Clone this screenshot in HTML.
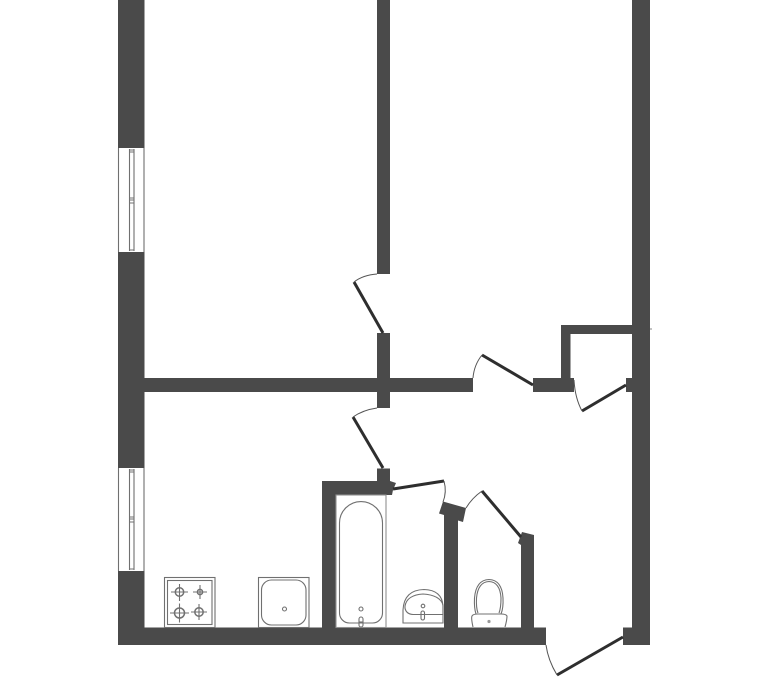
<!DOCTYPE html>
<html lang="en">
<head>
<meta charset="utf-8">
<title>Floor plan</title>
<style>
html,body{margin:0;padding:0;background:#fff;width:768px;height:688px;overflow:hidden}
svg{display:block}
.w{fill:#4a4a4a}
.d{stroke:#2e2e2e;stroke-width:3;fill:none}
.a{stroke:#555;stroke-width:1;fill:none}
.f{stroke:#707070;stroke-width:1.1;fill:none}
.g{stroke:#909090;stroke-width:1.1;fill:none}
</style>
</head>
<body>
<svg width="768" height="688" viewBox="0 0 768 688" xmlns="http://www.w3.org/2000/svg">
<!-- outer walls -->
<rect class="w" x="118" y="0" width="26.500" height="148"/>
<rect class="w" x="118" y="252" width="26.500" height="216"/>
<rect class="w" x="118" y="571" width="26.500" height="74"/>
<rect class="w" x="632" y="0" width="18" height="645"/>
<rect class="w" x="118" y="627.500" width="428" height="17.500"/>
<rect class="w" x="623" y="627.500" width="27" height="17.500"/>
<!-- partitions -->
<rect class="w" x="377" y="0" width="13" height="274"/>
<rect class="w" x="377" y="333" width="13" height="75"/>
<rect class="w" x="144" y="378" width="329" height="14"/>
<rect class="w" x="533" y="378" width="41" height="14"/>
<rect class="w" x="561" y="325" width="9.500" height="53"/>
<rect class="w" x="561" y="325" width="71" height="9"/>
<rect class="w" x="626" y="378" width="6" height="14"/>
<path class="g" d="M650 329h2"/>
<!-- bathroom walls -->
<polygon class="w" points="322,481 377,481 377,468.500 390,468.500 390,481 396,483 393,490 392,495 335.500,495 335.500,628 322,628"/>
<polygon class="w" points="443,501.500 466,508 463,522 458,520.500 458,628 444,628 444,515 439,513.500"/>
<polygon class="w" points="522,532 534,535 534,628 521,628 521,545 518,543"/>
<!-- windows -->
<g>
<path class="f" d="M118.500 148V252M144 148V252M118.500 468V571M144 468V571"/>
<path class="f" d="M129.500 149V251M134 149V251M129.500 469V570M134 469V570"/>
<path class="f" d="M129 150h5M129 152h5M129 198h5M129 200h5M129 203h5M129 250h5M129 470h5M129 472h5M129 517h5M129 519h5M129 522h5M129 569h5"/>
</g>
<!-- doors -->
<path class="d" d="M383 333L354 282"/>
<path class="a" d="M354 282Q363 275 377 274"/>
<path class="d" d="M533 385L482 355"/>
<path class="a" d="M482 355Q474 365 473 378"/>
<path class="d" d="M626 385L582 411"/>
<path class="a" d="M582 411Q575 398 574 380"/>
<path class="d" d="M383 468L353 417"/>
<path class="a" d="M353 417Q363 410 377 408"/>
<path class="d" d="M393 489L444 481"/>
<path class="a" d="M444 481Q447 492 443 502"/>
<path class="d" d="M482 491L521 537"/>
<path class="a" d="M482 491Q472 498 466 508"/>
<path class="d" d="M623 637L557 675"/>
<path class="a" d="M557 675Q548 660 546 645"/>
<!-- stove -->
<rect class="f" x="164.500" y="577.500" width="50.500" height="50"/>
<rect class="f" x="167.500" y="580.500" width="44.500" height="44" stroke-width="1.400"/>
<g class="f">
<circle cx="179.500" cy="592" r="4.200" stroke-width="1.500"/>
<path d="M171 592h17M179.500 584v17"/>
<circle cx="200" cy="592" r="2.600" stroke-width="1.500"/>
<path d="M193 592h14M200 585v14"/>
<circle cx="179.500" cy="613" r="5" stroke-width="1.500"/>
<path d="M170 613h19M179.500 603.500v19"/>
<circle cx="199" cy="612" r="4.200" stroke-width="1.500"/>
<path d="M191 612h16M199 604v16"/>
</g>
<!-- kitchen sink -->
<rect class="f" x="258.500" y="577.500" width="50.500" height="50"/>
<rect class="f" x="261.500" y="580" width="44.500" height="45" rx="10"/>
<circle cx="284.500" cy="609" r="2" class="f" stroke-width="1.500"/>
<!-- bathtub -->
<rect class="g" x="336" y="495" width="50" height="132.500" stroke-width="1.400"/>
<path class="f" d="M339.500 523a21.500 21.500 0 0 1 43 0V613a10 10 0 0 1-10 10H349.500a10 10 0 0 1-10-10Z"/>
<circle cx="361" cy="609" r="2" class="f"/>
<rect class="f" x="359" y="617" width="4" height="10" rx="2"/>
<path class="f" d="M359 622h4"/>
<!-- basin -->
<path class="f" d="M403 623V610Q404 590 424 589.500Q442 590 443 606V623Z"/>
<path class="f" d="M405 606Q407 595 423 594Q440 595 443 605V614.500H413Q406 614 405 608Z"/>
<circle cx="423" cy="606" r="1.800" class="f"/>
<rect class="f" x="421" y="611" width="3.500" height="9" rx="1.700"/>
<!-- toilet -->
<path class="f" d="M476 614Q474 608 474.500 598Q476 580 489 579.500Q502 580 503 598Q503.500 608 501 614"/>
<path class="f" d="M478 613Q476 608 476.500 598Q478 582 489 581.500Q500 582 501 598Q501 608 499 613"/>
<path class="f" d="M473 627Q471 618 472 616Q473 614 478 614H501Q506 614 507 616Q507 620 505 627"/>
<circle cx="489" cy="621.500" r="1.600" fill="#999"/>
</svg>
</body>
</html>
